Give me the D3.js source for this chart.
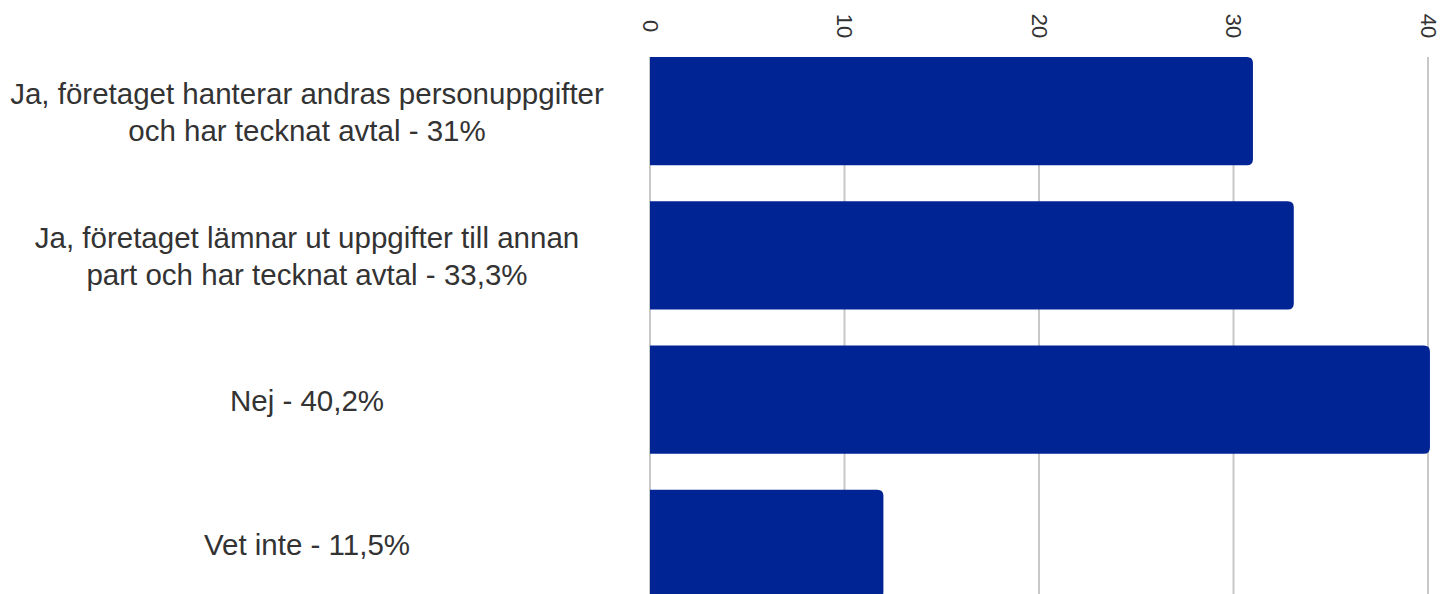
<!DOCTYPE html>
<html>
<head>
<meta charset="utf-8">
<script src="https://cdn.jsdelivr.net/npm/d3@7"></script>
<style>
  body { margin: 0; background: #ffffff; }
  svg { display: block; font-family: "Liberation Sans", Arial, sans-serif; }
</style>
</head>
<body>
<div id="chart"></div>
<script>
// Chart data :
var categories = [
  ["Ja, företaget hanterar andras personuppgifter", "och har tecknat avtal - 31%"],
  ["Ja, företaget lämnar ut uppgifter till annan", "part och har tecknat avtal - 33,3%"],
  ["Nej - 40,2%"],
  ["Vet inte - 11,5%"]
];
var values = [31, 33.1, 40.1, 12];
var tickValues = [0, 10, 20, 30, 40];

var width = 1440;
var height = 594;
var margin = { top: 57, left: 650, right: 12 };

var svg = d3.select("#chart").append("svg")
    .attr("width", width)
    .attr("height", height);

var x = d3.scaleLinear()
    .domain([0, 40])
    .range([margin.left, 1428]);

var y = d3.scaleBand()
    .domain(d3.range(categories.length))
    .range([margin.top, 598])
    .paddingInner(0.25)
    .paddingOuter(0);

// Gridlines behind the bars :
svg.append("g")
   .selectAll("line")
   .data(tickValues)
   .join("line")
   .attr("x1", function(d) { return x(d); })
   .attr("x2", function(d) { return x(d); })
   .attr("y1", margin.top)
   .attr("y2", height)
   .style("stroke", "#c8c8c8")
   .style("stroke-width", "2px");

// Bars with rounded right end :
function barPath(d, i) {
  var x0 = x(0), x1 = x(d), y0 = y(i), y1 = y(i) + y.bandwidth(), r = 6;
  return "M" + x0 + "," + y0 +
         "H" + (x1 - r) +
         "Q" + x1 + "," + y0 + " " + x1 + "," + (y0 + r) +
         "V" + (y1 - r) +
         "Q" + x1 + "," + y1 + " " + (x1 - r) + "," + y1 +
         "H" + x0 + "Z";
}

svg.append("g")
   .selectAll("path")
   .data(values)
   .join("path")
   .attr("d", barPath)
   .style("fill", "#002494");

// Top axis with rotated labels :
var axis = svg.append("g")
    .attr("transform", "translate(0," + 26 + ")")
    .call(d3.axisTop(x).tickValues(tickValues).tickSize(0).tickPadding(0));

axis.select(".domain").remove();
axis.selectAll("text")
    .attr("y", 0)
    .attr("dy", "0.35em")
    .attr("transform", "rotate(90)")
    .attr("text-anchor", "middle")
    .style("font-size", "22px")
    .style("font-family", "'Liberation Sans', Arial, sans-serif")
    .style("fill", "#333333");

// Category labels :
var labels = svg.append("g")
    .selectAll("text")
    .data(categories)
    .join("text")
    .attr("x", 307)
    .attr("text-anchor", "middle")
    .style("font-size", "29.5px")
    .style("fill", "#333333");

labels.each(function(lines, i) {
  var lineHeight = 37;
  var cy = y(i) + y.bandwidth() / 2 + 11;
  var startY = cy - (lines.length - 1) * lineHeight / 2;
  d3.select(this).selectAll("tspan")
    .data(lines)
    .join("tspan")
    .attr("x", 307)
    .attr("y", function(d, j) { return startY + j * lineHeight; })
    .text(function(d) { return d; });
});
</script>
</body>
</html>
